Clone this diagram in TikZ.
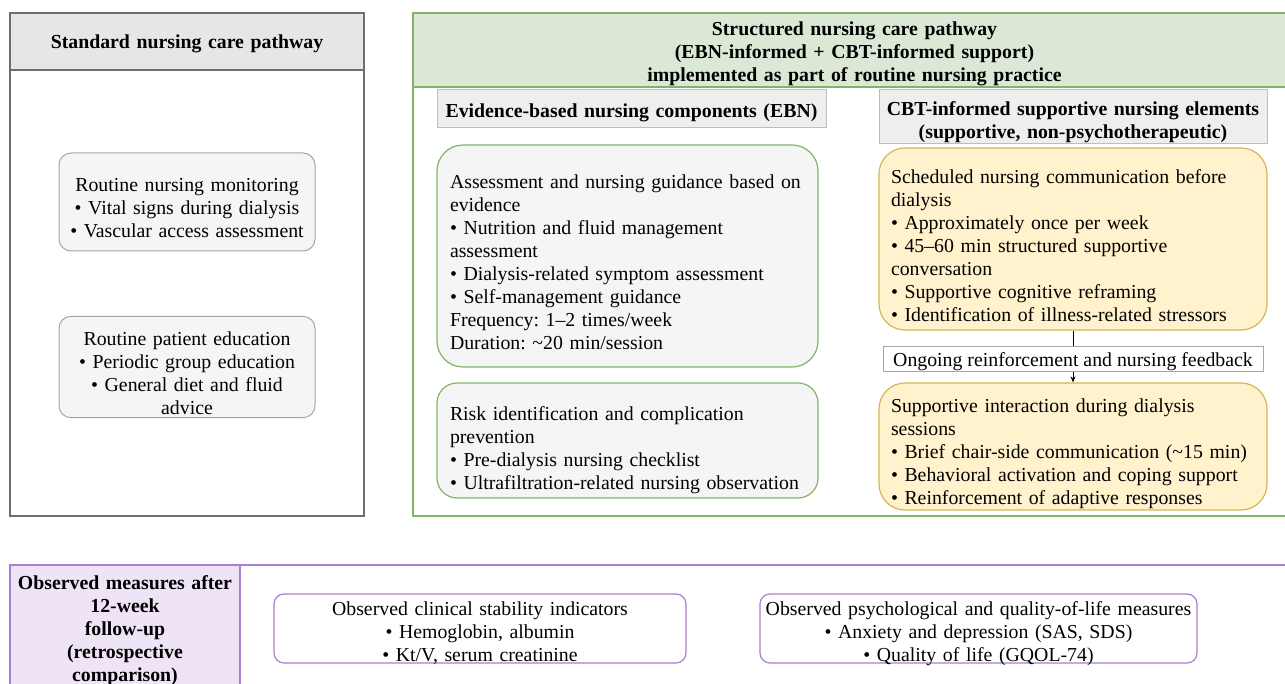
\documentclass[tikz,border=0pt]{standalone}
\usepackage{fontspec}
\setmainfont{Liberation Serif}
\usepackage[x11names]{xcolor}
\usepackage{tikz}
\usetikzlibrary{arrows.meta}
\frenchspacing

\definecolor{stdline}{HTML}{6E6E6E}
\definecolor{stdfill}{HTML}{E6E6E6}
\definecolor{boxline}{HTML}{A6A6A6}
\definecolor{boxfill}{HTML}{F5F5F5}
\definecolor{grnline}{HTML}{82B366}
\definecolor{grnfill}{HTML}{DAE8D5}
\definecolor{subline}{HTML}{BDBDBD}
\definecolor{subfill}{HTML}{EEEEEE}
\definecolor{ylwline}{HTML}{D6B656}
\definecolor{ylwfill}{HTML}{FFF2CC}
\definecolor{prpline}{HTML}{A97FCF}
\definecolor{prpfill}{HTML}{EFE4F6}

\begin{document}
\begin{tikzpicture}[x=1pt,y=-1pt,
    toppad/.style={execute at begin node={\rule{0pt}{#1}}},
    txt/.style={font=\fontsize{19.8}{23}\selectfont},
    head/.style={txt, font=\fontsize{19.8}{23}\selectfont\bfseries, align=center, inner sep=0pt},
    stdbox/.style={txt, draw=boxline, fill=boxfill, line width=1pt, rounded corners=12pt,
        align=center, text width=240pt, inner xsep=8pt, minimum width=256pt, minimum height=98pt,
        toppad=25.5pt},
    ebnbox/.style={txt, draw=grnline, fill=boxfill, line width=1.2pt, rounded corners=26pt,
        align=left, text width=355pt, inner xsep=13pt, minimum width=381pt},
    cbtbox/.style={txt, draw=ylwline, fill=ylwfill, line width=1.2pt, rounded corners=26pt,
        align=left, text width=364pt, inner xsep=12pt, inner ysep=0pt, minimum width=388pt,
        toppad=28pt},
    subhead/.style={head, draw=subline, fill=subfill, line width=1pt},
    measbox/.style={txt, draw=prpline, fill=white, line width=1.2pt, rounded corners=10pt,
        align=center, inner sep=0pt, minimum height=69pt, text height=12pt, text depth=39pt},
    lbl/.style={txt, draw=boxline, fill=white, line width=0.8pt, inner sep=0pt,
        minimum width=380pt, minimum height=25pt, toppad=19.5pt}]
    \useasboundingbox (0,0) rectangle (1285,684);
    \clip (0,0) rectangle (1285,684);

    % Left panel (standard care)
    \begin{scope}
        \draw[stdline, line width=1.3pt] (10,13) rectangle (364,516);
        \node[head, draw=stdline, fill=stdfill, line width=1.3pt, text width=354pt,
            minimum height=57pt, toppad=17.5pt] (stdhead) at (187,41.5)
            {Standard nursing care pathway};
        \node[stdbox] (monitor) at (187,202) {Routine nursing monitoring\\
            \textbullet\ Vital signs during dialysis\\
            \textbullet\ Vascular access assessment};
        \node[stdbox] (educ) at (187,367) {Routine patient education\\
            \textbullet\ Periodic group education\\
            \textbullet\ General diet and fluid\\ advice};
    \end{scope}

    % Right panel (structured care: EBN + CBT)
    \begin{scope}
        \draw[grnline, line width=1.3pt] (413,13) rectangle (1296,516);
        \node[head, draw=grnline, fill=grnfill, line width=1.3pt, text width=883pt,
            minimum height=74pt, toppad=20.5pt] (strhead) at (854.5,50)
            {Structured nursing care pathway\\
            (EBN-informed + CBT-informed support)\\
            implemented as part of routine nursing practice};

        % EBN column
        \node[subhead, text width=389pt, minimum height=38pt, toppad=21.5pt] (ebnhead)
            at (631.5,109) {Evidence-based nursing components (EBN)};
        \node[ebnbox, minimum height=222pt, toppad=25.5pt] (assess) at (627.5,256)
            {Assessment and nursing guidance based on\\ evidence\\
            \textbullet\ Nutrition and fluid management\\ assessment\\
            \textbullet\ Dialysis-related symptom assessment\\
            \textbullet\ Self-management guidance\\
            Frequency: 1--2 times/week\\
            Duration: \textasciitilde20 min/session};
        \node[ebnbox, rounded corners=20pt, minimum height=115pt, toppad=33.5pt] (risk)
            at (627.5,440.5)
            {Risk identification and complication\\ prevention\\
            \textbullet\ Pre-dialysis nursing checklist\\
            \textbullet\ Ultrafiltration-related nursing observation};

        % CBT column
        \node[subhead, text width=388pt, minimum height=54pt, toppad=24.5pt] (cbthead)
            at (1073,117)
            {CBT-informed supportive nursing elements\\ (supportive, non-psychotherapeutic)};
        \node[cbtbox, minimum height=182pt] (sched) at (1073,239)
            {Scheduled nursing communication before\\ dialysis\\
            \textbullet\ Approximately once per week\\
            \textbullet\ 45--60 min structured supportive\\ conversation\\
            \textbullet\ Supportive cognitive reframing\\
            \textbullet\ Identification of illness-related stressors};
        \node[cbtbox, minimum height=127pt] (chair) at (1073,446.5)
            {Supportive interaction during dialysis\\ sessions\\
            \textbullet\ Brief chair-side communication (\textasciitilde15 min)\\
            \textbullet\ Behavioral activation and coping support\\
            \textbullet\ Reinforcement of adaptive responses};
        \draw[line width=0.8pt, -{Stealth[length=6pt,width=5pt]}] (sched) -- node[lbl, pos=0.54]
            (feedback) {Ongoing reinforcement and nursing feedback} (chair);
    \end{scope}

    % Bottom panel (observed measures)
    \begin{scope}
        \draw[prpline, line width=1.3pt] (10,565) rectangle (1300,720);
        \node[head, draw=prpline, fill=prpfill, line width=1.3pt, anchor=north,
            text width=230pt, minimum height=126pt, toppad=17.5pt] (follow) at (125,565)
            {Observed measures after\\ 12-week\\ follow-up\\ (retrospective\\ comparison)};
        \node[measbox, text width=412pt] (clinic) at (480,628.5)
            {Observed clinical stability indicators\\
            \textbullet\ Hemoglobin, albumin\\
            \textbullet\ Kt/V, serum creatinine};
        \node[measbox, text width=437pt] (psych) at (978.5,628.5)
            {Observed psychological and quality-of-life measures\\
            \textbullet\ Anxiety and depression (SAS, SDS)\\
            \textbullet\ Quality of life (GQOL-74)};
    \end{scope}
\end{tikzpicture}
\end{document}
